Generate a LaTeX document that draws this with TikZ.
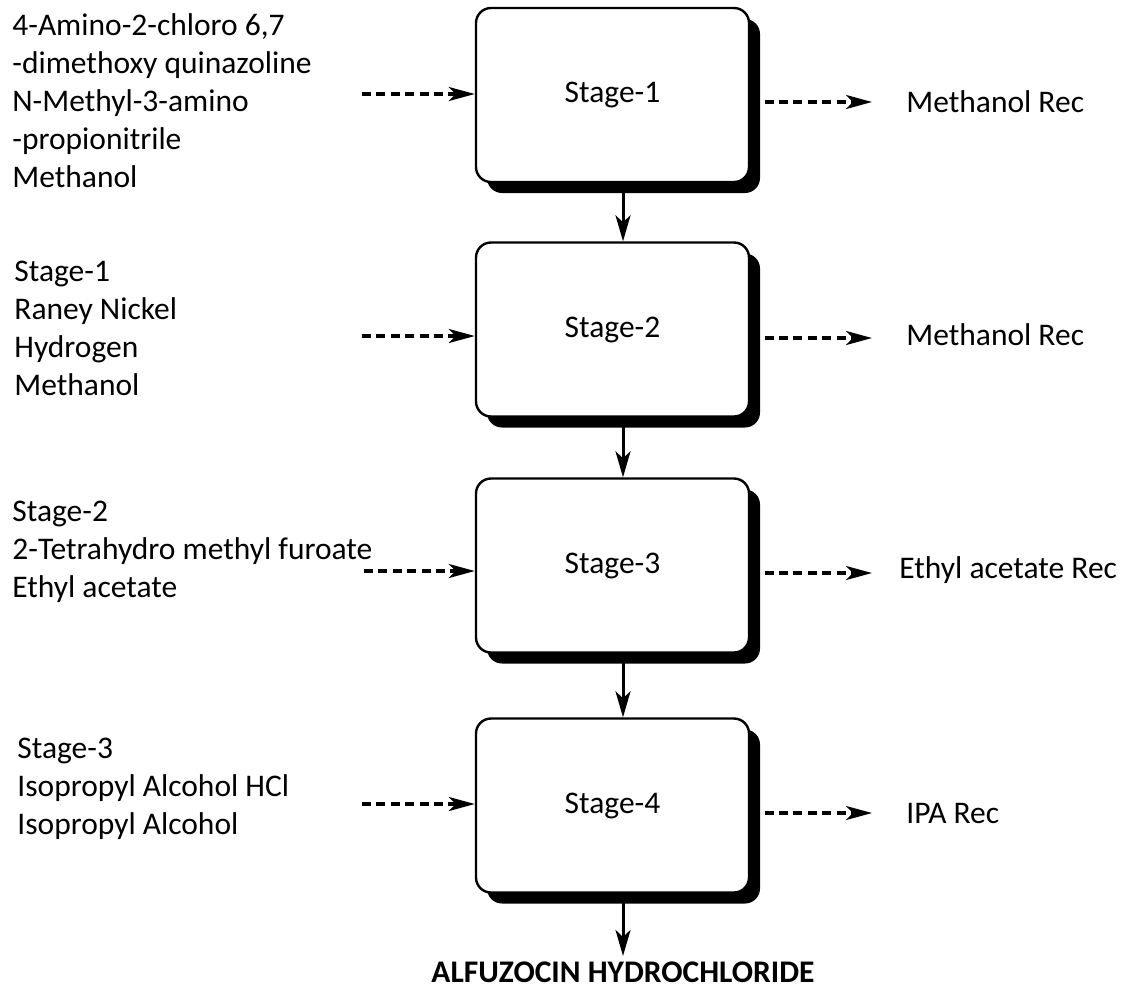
\documentclass[tikz,border=0pt]{standalone}
\usepackage{fontspec}
\setmainfont{Carlito}
\usepackage{tikz}
\usetikzlibrary{arrows.meta,shadows}

\begin{document}
\begin{tikzpicture}[x=0.5pt,y=-0.5pt,
  stagebox/.style={draw=black,line width=1.2pt,rounded corners=7.5pt,fill=white,
    minimum width=136.5pt,minimum height=87pt,inner sep=0pt,
    drop shadow={shadow xshift=5.5pt,shadow yshift=-5.5pt,fill=black,opacity=1}},
  feed/.style={black,line width=1.7pt,dash pattern=on 4.5pt off 2.7pt,
    -{Stealth[length=13pt,width=7pt,inset=3.5pt]}},
  main/.style={black,line width=1.5pt,-{Stealth[length=13pt,width=7.5pt,inset=3.5pt]}},
  intext/.style={anchor=north west,inner sep=0pt,align=left},
  outtext/.style={anchor=base west,inner sep=0pt}]
\tikzstyle{every node}+=[font=\fontsize{15.75}{19}\selectfont]
\useasboundingbox (0,0) rectangle (1128,987);
% stages
\node [stagebox] (s1) at (612.5,95) {Stage-1};
\node [stagebox] (s2) at (612.5,329.5) {Stage-2};
\node [stagebox] (s3) at (612.5,565.5) {Stage-3};
\node [stagebox] (s4) at (612.5,805.5) {Stage-4};
\node [anchor=base,inner sep=0pt,font=\fontsize{15.75}{19}\selectfont\bfseries] (prod) at (623,982) {ALFUZOCIN HYDROCHLORIDE};
% main line
\draw [main] ([xshift=5.25pt]s1.south) -- ([xshift=5.25pt]s2.north);
\draw [main] ([xshift=5.25pt]s2.south) -- ([xshift=5.25pt]s3.north);
\draw [main] ([xshift=5.25pt]s3.south) -- ([xshift=5.25pt]s4.north);
\draw [main] (s4.south -| prod.north) -- ([yshift=2.5pt]prod.north);
% inputs
\node [intext] (in1) at (12,13) {4-Amino-2-chloro 6,7\\-dimethoxy quinazoline\\N-Methyl-3-amino\\-propionitrile\\Methanol};
\node [intext] (in2) at (14,261) {Stage-1\\Raney Nickel\\Hydrogen\\Methanol};
\node [intext] (in3) at (12,501) {Stage-2\\2-Tetrahydro methyl furoate\\Ethyl acetate};
\node [intext] (in4) at (17,738) {Stage-3\\Isopropyl Alcohol HCl\\Isopropyl Alcohol};
\coordinate (f1) at (362,94);
\coordinate (f2) at (362,336);
\coordinate (f3) at (364,571);
\coordinate (f4) at (362,804);
\draw [feed] (f1) -- (f1 -| s1.west);
\draw [feed] (f2) -- (f2 -| s2.west);
\draw [feed] (f3) -- (f3 -| s3.west);
\draw [feed] (f4) -- (f4 -| s4.west);
% recovered solvents
\coordinate (r1) at (872,102);
\coordinate (r2) at (872,338);
\coordinate (r3) at (872,573);
\coordinate (r4) at (872,813);
\draw [feed] (s1.east |- r1) -- (r1);
\draw [feed] (s2.east |- r2) -- (r2);
\draw [feed] (s3.east |- r3) -- (r3);
\draw [feed] (s4.east |- r4) -- (r4);
\node [outtext] (out1) at (906,112) {Methanol Rec};
\node [outtext] (out2) at (906,345) {Methanol Rec};
\node [outtext] (out3) at (899,578) {Ethyl acetate Rec};
\node [outtext] (out4) at (906,823) {IPA Rec};
\end{tikzpicture}
\end{document}
